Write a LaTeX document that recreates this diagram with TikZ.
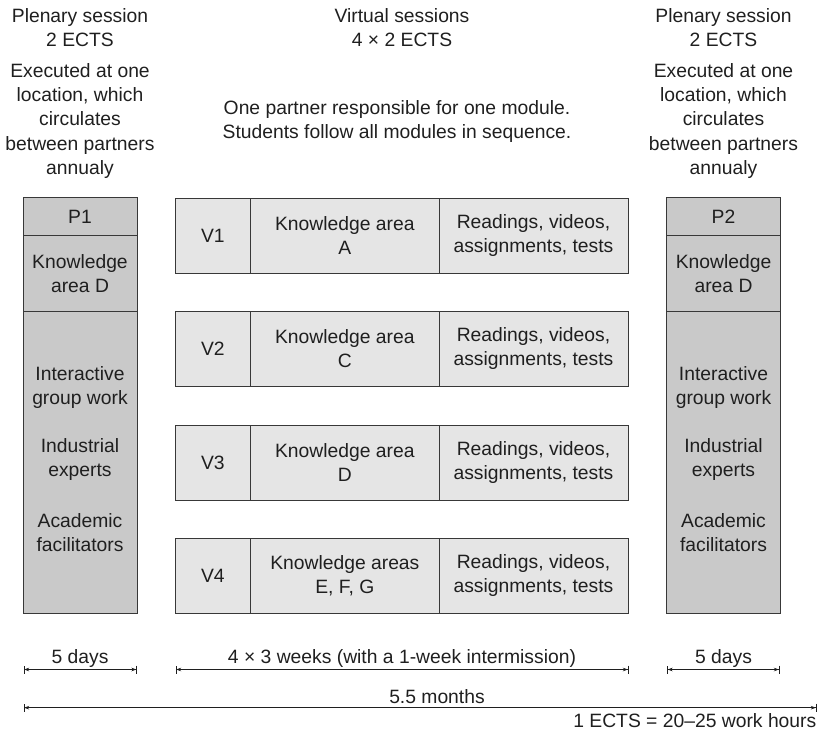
\documentclass[tikz,border=0pt]{standalone}
\usepackage{fontspec}
\setmainfont{Liberation Sans}
\usetikzlibrary{arrows.meta}
\definecolor{pfill}{gray}{0.79}
\definecolor{vfill}{gray}{0.90}
\definecolor{edge}{gray}{0.22}
\definecolor{ink}{gray}{0.12}
\begin{document}
\begin{tikzpicture}[x=1pt,y=-1pt,
  every node/.style={font=\fontsize{19.3}{24}\selectfont, text=ink, inner sep=0pt, align=center},
  pcell/.style={draw=edge, line width=0.8pt, fill=pfill, minimum width=114pt},
  vcell/.style={draw=edge, line width=0.8pt, fill=vfill, minimum height=75pt},
  lbl/.style={anchor=base},
  dim/.style={draw=ink, line width=0.7pt,
    {Bar[width=8pt,line width=0.7pt]Stealth[length=5pt,width=3.6pt]}-{Stealth[length=5pt,width=3.6pt]Bar[width=8pt,line width=0.7pt]}}
]
\useasboundingbox (0,0) rectangle (819,741);

% headers
\node[lbl] (h1a) at (80,22.7) {Plenary session};
\node[lbl] (h1b) at (80,46.7) {2 ECTS};
\node[lbl] (h1c) at (80,78) {Executed at one};
\node[lbl] (h1d) at (80,102) {location, which};
\node[lbl] (h1e) at (80,126) {circulates};
\node[lbl] (h1f) at (80,150) {between partners};
\node[lbl] (h1g) at (80,174) {annualy};

\node[lbl] (h2a) at (402,22.7) {Virtual sessions};
\node[lbl] (h2b) at (402,46.7) {4 × 2 ECTS};
\node[lbl] (h2c) at (397,115) {One partner responsible for one module.};
\node[lbl] (h2d) at (397,139) {Students follow all modules in sequence.};

\node[lbl] (h3a) at (723.5,22.7) {Plenary session};
\node[lbl] (h3b) at (723.5,46.7) {2 ECTS};
\node[lbl] (h3c) at (723.5,78) {Executed at one};
\node[lbl] (h3d) at (723.5,102) {location, which};
\node[lbl] (h3e) at (723.5,126) {circulates};
\node[lbl] (h3f) at (723.5,150) {between partners};
\node[lbl] (h3g) at (723.5,174) {annualy};

% plenary boxes
\foreach \cx/\nm/\lab in {80/pa/P1, 723.5/pb/P2}{
  \node[pcell, minimum height=37.8pt] (\nm h) at (\cx,216.4) {\lab};
  \node[pcell, minimum height=75.7pt] (\nm k) at (\cx,273.2) {Knowledge\\area D};
  \node[pcell, minimum height=302pt] (\nm b) at (\cx,462) {};
  \node (\nm i) at (\cx,388) {Interactive\\group work};
  \node (\nm e) at (\cx,460) {Industrial\\experts};
  \node (\nm f) at (\cx,533) {Academic\\facilitators};
}

% virtual rows
\foreach \cy/\v/\ka in {235.5/V1/{Knowledge area\\A}, 349/V2/{Knowledge area\\C}, 462.5/V3/{Knowledge area\\D}, 576/V4/{Knowledge areas\\E, F, G}}{
  \node[vcell, minimum width=75.7pt] (\v l) at (212.85,\cy) {\v};
  \node[vcell, minimum width=188.3pt] (\v k) at (344.85,\cy) {\ka};
  \node[vcell, minimum width=189pt] (\v r) at (533.5,\cy) {Readings, videos,\\assignments, tests};
}

% dimension lines
\coordinate (d1a) at (23.5,669.5);
\coordinate (d1b) at (137,669.5);
\coordinate (d2a) at (175.5,669.5);
\coordinate (d2b) at (628.5,669.5);
\coordinate (d3a) at (667,669.5);
\coordinate (d3b) at (779.5,669.5);
\coordinate (d4a) at (23.5,707.7);
\coordinate (d4b) at (816.5,707.7);
\draw[dim] (d1a) -- (d1b);
\draw[dim] (d2a) -- (d2b);
\draw[dim] (d3a) -- (d3b);
\draw[dim] (d4a) -- (d4b);

\node[lbl] (t1) at (80,663) {5 days};
\node[lbl] (t2) at (402,663) {4 × 3 weeks (with a 1-week intermission)};
\node[lbl] (t3) at (723.5,663) {5 days};
\node[lbl] (t4) at (437,703) {5.5 months};
\node[anchor=base east] (t5) at (816.5,727) {1 ECTS = 20–25 work hours};
\end{tikzpicture}
\end{document}
